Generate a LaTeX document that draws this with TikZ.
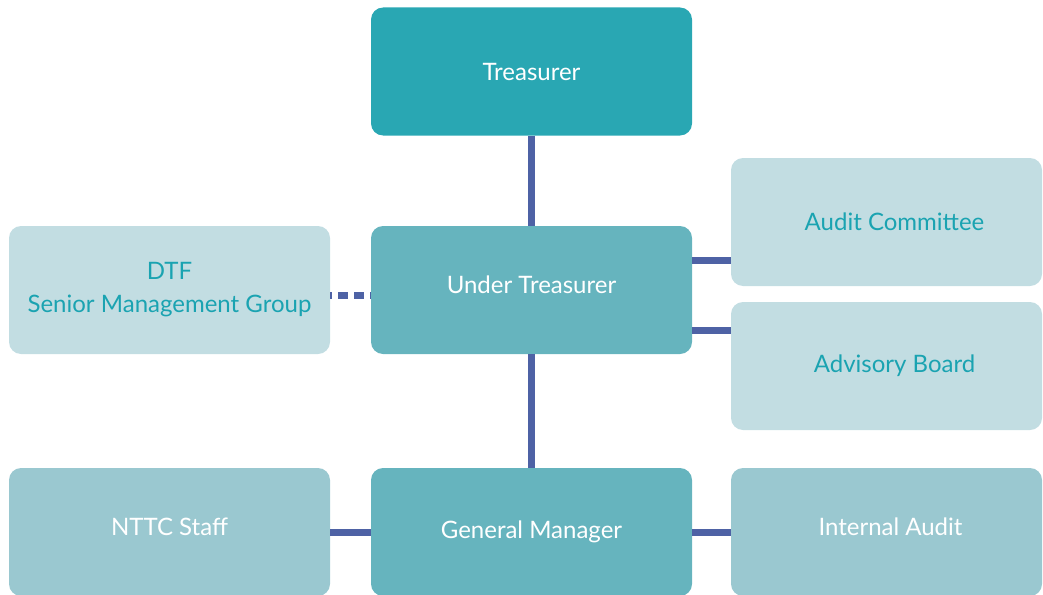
\documentclass[tikz,border=0pt]{standalone}
\usepackage{fontspec}
\setmainfont{Lato}
\definecolor{topteal}{HTML}{29A7B3}
\definecolor{midteal}{HTML}{66B4BE}
\definecolor{paleteal}{HTML}{C2DDE2}
\definecolor{softteal}{HTML}{9AC8D0}
\definecolor{linkblue}{HTML}{4E62A5}
\definecolor{labelteal}{HTML}{1AA3B1}
\tikzset{
  unit/.style={rectangle, rounded corners=12pt, minimum height=128pt,
    align=center, font=\fontsize{24}{33}\selectfont, text=white},
  wide/.style={unit, minimum width=321pt},
  side/.style={unit, minimum width=311pt},
  lift/.style={text depth=#1},
  nudge/.style={execute at begin node={\hspace*{#1}}},
  link/.style={draw=linkblue, line width=7pt},
}
\begin{document}
\begin{tikzpicture}[x=1pt,y=-1pt]
\useasboundingbox (0,0) rectangle (1043,594);
\clip (0,0) rectangle (1043,594);

\node[wide, fill=topteal]  (treas) at (531.5,71.5) {Treasurer};
\node[wide, fill=midteal, lift=10pt] (ut) at (531.5,290) {Under Treasurer};
\node[wide, fill=midteal]  (gm)    at (531.5,532)  {General Manager};
\node[wide, fill=paleteal, text=labelteal] (dtf) at (169.5,290) {DTF\\Senior Management Group};
\node[wide, fill=softteal, lift=10pt] (staff) at (169.5,532) {NTTC Staff};

\node[side, fill=paleteal, text=labelteal, nudge=16pt] (ac) at (886.5,222) {Audit Committee};
\node[side, fill=paleteal, text=labelteal, nudge=16pt] (ab) at (886.5,366) {Advisory Board};
\node[side, fill=softteal, lift=10pt, nudge=8pt] (ia) at (886.5,532) {Internal Audit};

\draw[link] (treas) -- (ut);
\draw[link] (ut) -- (gm);
\draw[link] ([yshift=30pt]ut.east) -- ([yshift=30pt]ut.east -| ac.west);
\draw[link] ([yshift=-40pt]ut.east) -- ([yshift=-40pt]ut.east -| ab.west);
\draw[link, dash pattern=on 10pt off 6pt, dash phase=8pt] ([yshift=-5pt]dtf.east) -- ([yshift=-5pt]dtf.east -| ut.west);
\draw[link] (staff) -- (gm);
\draw[link] (gm) -- (ia);
\end{tikzpicture}
\end{document}
